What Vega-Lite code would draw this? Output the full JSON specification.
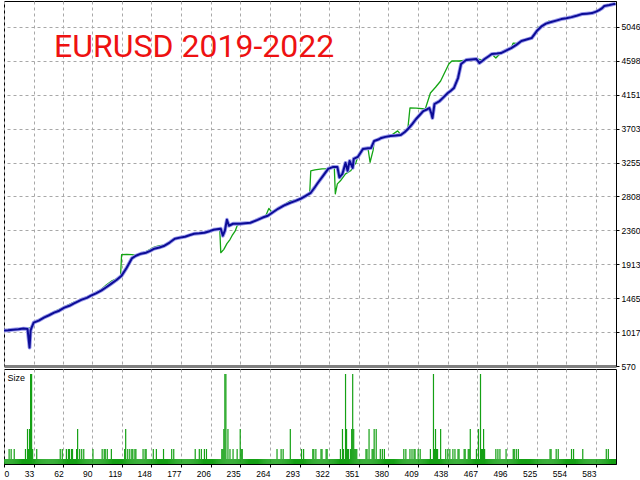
{
"$schema": "https://vega.github.io/schema/vega-lite/v6.json",
"padding": {"left": 3, "top": 0, "right": 0, "bottom": 0},
"background": "white",
"spacing": 3,
"bounds": "flush",
"config": {
  "view": {"stroke": "#000", "strokeWidth": 1},
  "axis": {"labelFont": "Liberation Sans", "labelFontSize": 8.5, "labelColor": "#000", "tickColor": "#000", "domainColor": "#000", "tickSize": 3, "labelPadding": 2, "gridColor": "#a8a8a8", "gridDash": [3, 3], "gridWidth": 1, "labelOverlap": false}
},
"datasets": {
  "balance": [
    {"n":4,"v":1038},{"n":8,"v":1042},{"n":13,"v":1050},{"n":18,"v":1055},{"n":23,"v":1064},{"n":27,"v":1060},{"n":29,"v":814},{"n":30,"v":1040},{"n":31,"v":1077},{"n":33,"v":1143},
    {"n":38,"v":1170},{"n":43,"v":1209},{"n":48,"v":1240},{"n":53,"v":1275},{"n":58,"v":1300},{"n":63,"v":1341},{"n":68,"v":1365},{"n":72,"v":1394},{"n":76,"v":1420},{"n":80,"v":1446},
    {"n":85,"v":1470},{"n":89,"v":1499},{"n":94,"v":1530},{"n":99,"v":1565},{"n":104,"v":1610},{"n":109,"v":1657},{"n":114,"v":1705},{"n":119,"v":1763},{"n":124,"v":1868},{"n":129,"v":1990},
    {"n":133,"v":2026},{"n":138,"v":2053},{"n":143,"v":2066},{"n":147,"v":2090},{"n":151,"v":2119},{"n":156,"v":2135},{"n":161,"v":2158},{"n":166,"v":2200},{"n":171,"v":2250},{"n":176,"v":2265},
    {"n":181,"v":2277},{"n":186,"v":2300},{"n":190,"v":2316},{"n":195,"v":2322},{"n":200,"v":2330},{"n":205,"v":2350},{"n":209,"v":2369},{"n":212,"v":2375},{"n":216,"v":2382},{"n":218,"v":2290},
    {"n":220,"v":2356},{"n":222,"v":2501},{"n":224,"v":2422},{"n":228,"v":2448},{"n":235,"v":2448},{"n":240,"v":2455},{"n":245,"v":2461},{"n":252,"v":2500},{"n":257,"v":2530},{"n":262,"v":2554},
    {"n":267,"v":2600},{"n":272,"v":2646},{"n":278,"v":2690},{"n":284,"v":2725},{"n":289,"v":2750},{"n":294,"v":2778},{"n":299,"v":2815},{"n":304,"v":2857},{"n":308,"v":2930},{"n":311,"v":2989},
    {"n":316,"v":3081},{"n":321,"v":3173},{"n":326,"v":3199},{"n":330,"v":3199},{"n":332,"v":3060},{"n":335,"v":3107},{"n":338,"v":3252},{"n":340,"v":3147},{"n":342,"v":3278},{"n":345,"v":3186},
    {"n":346,"v":3305},{"n":350,"v":3330},{"n":355,"v":3436},{"n":360,"v":3445},{"n":363,"v":3449},{"n":366,"v":3541},{"n":370,"v":3560},{"n":373,"v":3581},{"n":377,"v":3595},{"n":382,"v":3607},
    {"n":387,"v":3612},{"n":392,"v":3620},{"n":396,"v":3660},{"n":399,"v":3699},{"n":403,"v":3760},{"n":407,"v":3831},{"n":411,"v":3890},{"n":414,"v":3936},{"n":418,"v":3960},{"n":420,"v":3976},
    {"n":422,"v":3900},{"n":423,"v":3844},{"n":425,"v":4029},{"n":430,"v":4068},{"n":434,"v":4120},{"n":438,"v":4174},{"n":441,"v":4205},{"n":444,"v":4240},{"n":448,"v":4372},{"n":451,"v":4557},
    {"n":456,"v":4610},{"n":461,"v":4618},{"n":466,"v":4623},{"n":469,"v":4570},{"n":472,"v":4600},{"n":474,"v":4623},{"n":478,"v":4660},{"n":481,"v":4689},{"n":486,"v":4695},{"n":490,"v":4702},
    {"n":495,"v":4735},{"n":500,"v":4768},{"n":505,"v":4810},{"n":510,"v":4860},{"n":515,"v":4880},{"n":520,"v":4900},{"n":525,"v":4992},{"n":530,"v":5058},{"n":534,"v":5090},{"n":539,"v":5111},
    {"n":544,"v":5130},{"n":549,"v":5150},{"n":554,"v":5162},{"n":559,"v":5176},{"n":564,"v":5195},{"n":569,"v":5216},{"n":574,"v":5222},{"n":579,"v":5229},{"n":583,"v":5248},{"n":586,"v":5269},
    {"n":589,"v":5295},{"n":591,"v":5322},{"n":596,"v":5335},{"n":600,"v":5348},{"n":602,"v":5350}
  ],
  "equity": [
    {"n":4,"v":1045},{"n":13,"v":1055},{"n":23,"v":1070},{"n":27,"v":1065},{"n":31,"v":1080},{"n":33,"v":1150},{"n":43,"v":1215},{"n":53,"v":1285},{"n":63,"v":1350},{"n":72,"v":1410},
    {"n":80,"v":1450},{"n":89,"v":1505},{"n":99,"v":1580},{"n":104,"v":1640},{"n":109,"v":1690},{"n":114,"v":1720},{"n":118,"v":1763},{"n":119,"v":2040},{"n":124,"v":2045},{"n":129,"v":2040},
    {"n":133,"v":2030},{"n":138,"v":2060},{"n":143,"v":2080},{"n":151,"v":2140},{"n":156,"v":2160},{"n":161,"v":2165},{"n":171,"v":2255},{"n":181,"v":2285},{"n":190,"v":2320},{"n":200,"v":2335},
    {"n":209,"v":2372},{"n":215,"v":2384},{"n":216,"v":2066},{"n":219,"v":2110},{"n":222,"v":2185},{"n":225,"v":2240},{"n":227,"v":2290},{"n":230,"v":2350},{"n":232,"v":2422},{"n":235,"v":2450},
    {"n":245,"v":2465},{"n":252,"v":2505},{"n":260,"v":2554},{"n":263,"v":2650},{"n":266,"v":2600},{"n":272,"v":2650},{"n":278,"v":2700},{"n":284,"v":2750},{"n":289,"v":2760},{"n":294,"v":2782},
    {"n":299,"v":2820},{"n":303,"v":2857},{"n":304,"v":3147},{"n":308,"v":3160},{"n":315,"v":3173},{"n":320,"v":3175},{"n":324,"v":3199},{"n":327,"v":3199},{"n":328,"v":2843},{"n":330,"v":2975},
    {"n":333,"v":3015},{"n":338,"v":3107},{"n":343,"v":3147},{"n":348,"v":3250},{"n":350,"v":3335},{"n":355,"v":3440},{"n":360,"v":3440},{"n":362,"v":3260},{"n":365,"v":3420},{"n":366,"v":3541},
    {"n":373,"v":3585},{"n":382,"v":3610},{"n":389,"v":3674},{"n":392,"v":3625},{"n":399,"v":3710},{"n":401,"v":3976},{"n":407,"v":3975},{"n":416,"v":3963},{"n":421,"v":4174},{"n":426,"v":4250},
    {"n":431,"v":4333},{"n":439,"v":4557},{"n":442,"v":4597},{"n":449,"v":4597},{"n":458,"v":4610},{"n":466,"v":4625},{"n":472,"v":4610},{"n":481,"v":4690},{"n":485,"v":4636},{"n":490,"v":4705},
    {"n":500,"v":4770},{"n":502,"v":4834},{"n":506,"v":4830},{"n":510,"v":4860},{"n":520,"v":4905},{"n":525,"v":5000},{"n":527,"v":5045},{"n":530,"v":5060},{"n":537,"v":5124},{"n":539,"v":5115},
    {"n":549,"v":5155},{"n":558,"v":5163},{"n":559,"v":5178},{"n":569,"v":5218},{"n":579,"v":5232},{"n":586,"v":5272},{"n":591,"v":5325},{"n":600,"v":5350},{"n":602,"v":5352}
  ],
  "size": [
    {"n":4,"s":1},{"n":5,"s":1},{"n":6,"s":1},{"n":7,"s":1},{"n":8,"s":1},{"n":9,"s":3},{"n":10,"s":1},{"n":11,"s":3},{"n":12,"s":1},{"n":13,"s":1},
    {"n":14,"s":3},{"n":15,"s":1},{"n":16,"s":1},{"n":17,"s":1},{"n":18,"s":1},{"n":19,"s":1},{"n":20,"s":1},{"n":21,"s":1},{"n":22,"s":1},{"n":23,"s":1},
    {"n":24,"s":1},{"n":25,"s":3},{"n":26,"s":1},{"n":27,"s":7},{"n":28,"s":3},{"n":29,"s":7},{"n":30,"s":18},{"n":31,"s":18},{"n":32,"s":3},{"n":33,"s":1},
    {"n":34,"s":1},{"n":35,"s":1},{"n":36,"s":3},{"n":37,"s":1},{"n":38,"s":1},{"n":39,"s":1},{"n":40,"s":1},{"n":41,"s":1},{"n":42,"s":1},{"n":43,"s":1},
    {"n":44,"s":1},{"n":45,"s":1},{"n":46,"s":1},{"n":47,"s":1},{"n":48,"s":1},{"n":49,"s":1},{"n":50,"s":1},{"n":51,"s":1},{"n":52,"s":1},{"n":53,"s":1},
    {"n":54,"s":1},{"n":55,"s":1},{"n":56,"s":1},{"n":57,"s":1},{"n":58,"s":1},{"n":59,"s":3},{"n":60,"s":1},{"n":61,"s":3},{"n":62,"s":1},{"n":63,"s":1},
    {"n":64,"s":1},{"n":65,"s":3},{"n":66,"s":1},{"n":67,"s":3},{"n":68,"s":3},{"n":69,"s":1},{"n":70,"s":3},{"n":71,"s":3},{"n":72,"s":1},{"n":73,"s":1},
    {"n":74,"s":1},{"n":75,"s":3},{"n":76,"s":7},{"n":77,"s":1},{"n":78,"s":3},{"n":79,"s":1},{"n":80,"s":3},{"n":81,"s":1},{"n":82,"s":3},{"n":83,"s":1},
    {"n":84,"s":1},{"n":85,"s":1},{"n":86,"s":1},{"n":87,"s":1},{"n":88,"s":1},{"n":89,"s":1},{"n":90,"s":1},{"n":91,"s":3},{"n":92,"s":1},{"n":93,"s":1},
    {"n":94,"s":1},{"n":95,"s":1},{"n":96,"s":1},{"n":97,"s":1},{"n":98,"s":1},{"n":99,"s":1},{"n":100,"s":3},{"n":101,"s":1},{"n":102,"s":3},{"n":103,"s":3},
    {"n":104,"s":1},{"n":105,"s":3},{"n":106,"s":1},{"n":107,"s":1},{"n":108,"s":1},{"n":109,"s":3},{"n":110,"s":1},{"n":111,"s":1},{"n":112,"s":1},{"n":113,"s":1},
    {"n":114,"s":1},{"n":115,"s":1},{"n":116,"s":1},{"n":117,"s":1},{"n":118,"s":1},{"n":119,"s":1},{"n":120,"s":1},{"n":121,"s":1},{"n":122,"s":3},{"n":123,"s":7},
    {"n":124,"s":1},{"n":125,"s":3},{"n":126,"s":1},{"n":127,"s":3},{"n":128,"s":1},{"n":129,"s":3},{"n":130,"s":3},{"n":131,"s":1},{"n":132,"s":3},{"n":133,"s":3},
    {"n":134,"s":1},{"n":135,"s":1},{"n":136,"s":1},{"n":137,"s":1},{"n":138,"s":1},{"n":139,"s":1},{"n":140,"s":3},{"n":141,"s":1},{"n":142,"s":3},{"n":143,"s":3},
    {"n":144,"s":1},{"n":145,"s":1},{"n":146,"s":1},{"n":147,"s":1},{"n":148,"s":1},{"n":149,"s":1},{"n":150,"s":3},{"n":151,"s":1},{"n":152,"s":1},{"n":153,"s":3},
    {"n":154,"s":1},{"n":155,"s":1},{"n":156,"s":1},{"n":157,"s":1},{"n":158,"s":1},{"n":159,"s":1},{"n":160,"s":3},{"n":161,"s":1},{"n":162,"s":1},{"n":163,"s":1},
    {"n":164,"s":1},{"n":165,"s":1},{"n":166,"s":1},{"n":167,"s":1},{"n":168,"s":3},{"n":169,"s":1},{"n":170,"s":3},{"n":171,"s":1},{"n":172,"s":1},{"n":173,"s":1},
    {"n":174,"s":1},{"n":175,"s":1},{"n":176,"s":1},{"n":177,"s":1},{"n":178,"s":1},{"n":179,"s":1},{"n":180,"s":1},{"n":181,"s":1},{"n":182,"s":1},{"n":183,"s":1},
    {"n":184,"s":1},{"n":185,"s":1},{"n":186,"s":1},{"n":187,"s":1},{"n":188,"s":1},{"n":189,"s":1},{"n":190,"s":1},{"n":191,"s":3},{"n":192,"s":1},{"n":193,"s":1},
    {"n":194,"s":1},{"n":195,"s":3},{"n":196,"s":1},{"n":197,"s":3},{"n":198,"s":1},{"n":199,"s":1},{"n":200,"s":3},{"n":201,"s":1},{"n":202,"s":3},{"n":203,"s":1},
    {"n":204,"s":1},{"n":205,"s":1},{"n":206,"s":1},{"n":207,"s":1},{"n":208,"s":1},{"n":209,"s":1},{"n":210,"s":1},{"n":211,"s":1},{"n":212,"s":1},{"n":213,"s":1},
    {"n":214,"s":1},{"n":215,"s":1},{"n":216,"s":1},{"n":217,"s":3},{"n":218,"s":3},{"n":219,"s":7},{"n":220,"s":18},{"n":221,"s":18},{"n":222,"s":1},{"n":223,"s":7},
    {"n":224,"s":1},{"n":225,"s":3},{"n":226,"s":1},{"n":227,"s":1},{"n":228,"s":3},{"n":229,"s":1},{"n":230,"s":1},{"n":231,"s":1},{"n":232,"s":3},{"n":233,"s":1},
    {"n":234,"s":1},{"n":235,"s":7},{"n":236,"s":3},{"n":237,"s":3},{"n":238,"s":1},{"n":239,"s":1},{"n":240,"s":1},{"n":241,"s":1},{"n":242,"s":1},{"n":243,"s":1},
    {"n":244,"s":1},{"n":245,"s":1},{"n":246,"s":1},{"n":247,"s":1},{"n":248,"s":1},{"n":249,"s":1},{"n":250,"s":1},{"n":251,"s":1},{"n":252,"s":1},{"n":253,"s":1},
    {"n":254,"s":1},{"n":255,"s":1},{"n":256,"s":1},{"n":257,"s":1},{"n":258,"s":1},{"n":259,"s":1},{"n":260,"s":1},{"n":261,"s":1},{"n":262,"s":1},{"n":263,"s":1},
    {"n":264,"s":1},{"n":265,"s":1},{"n":266,"s":1},{"n":267,"s":1},{"n":268,"s":1},{"n":269,"s":1},{"n":270,"s":1},{"n":271,"s":3},{"n":272,"s":1},{"n":273,"s":1},
    {"n":274,"s":1},{"n":275,"s":3},{"n":276,"s":1},{"n":277,"s":3},{"n":278,"s":1},{"n":279,"s":1},{"n":280,"s":1},{"n":281,"s":1},{"n":282,"s":1},{"n":283,"s":1},
    {"n":284,"s":7},{"n":285,"s":1},{"n":286,"s":1},{"n":287,"s":1},{"n":288,"s":1},{"n":289,"s":1},{"n":290,"s":1},{"n":291,"s":1},{"n":292,"s":1},{"n":293,"s":1},
    {"n":294,"s":1},{"n":295,"s":3},{"n":296,"s":1},{"n":297,"s":3},{"n":298,"s":1},{"n":299,"s":1},{"n":300,"s":1},{"n":301,"s":1},{"n":302,"s":1},{"n":303,"s":1},
    {"n":304,"s":1},{"n":305,"s":1},{"n":306,"s":3},{"n":307,"s":3},{"n":308,"s":1},{"n":309,"s":3},{"n":310,"s":1},{"n":311,"s":1},{"n":312,"s":1},{"n":313,"s":1},
    {"n":314,"s":3},{"n":315,"s":3},{"n":316,"s":1},{"n":317,"s":1},{"n":318,"s":1},{"n":319,"s":3},{"n":320,"s":3},{"n":321,"s":1},{"n":322,"s":1},{"n":323,"s":1},
    {"n":324,"s":1},{"n":325,"s":1},{"n":326,"s":1},{"n":327,"s":1},{"n":328,"s":1},{"n":329,"s":1},{"n":330,"s":1},{"n":331,"s":1},{"n":332,"s":1},{"n":333,"s":3},
    {"n":334,"s":1},{"n":335,"s":7},{"n":336,"s":3},{"n":337,"s":1},{"n":338,"s":18},{"n":339,"s":7},{"n":340,"s":3},{"n":341,"s":3},{"n":342,"s":1},{"n":343,"s":3},
    {"n":344,"s":7},{"n":345,"s":18},{"n":346,"s":7},{"n":347,"s":3},{"n":348,"s":3},{"n":349,"s":3},{"n":350,"s":1},{"n":351,"s":1},{"n":352,"s":1},{"n":353,"s":1},
    {"n":354,"s":1},{"n":355,"s":1},{"n":356,"s":1},{"n":357,"s":1},{"n":358,"s":3},{"n":359,"s":3},{"n":360,"s":1},{"n":361,"s":7},{"n":362,"s":1},{"n":363,"s":1},
    {"n":364,"s":3},{"n":365,"s":3},{"n":366,"s":7},{"n":367,"s":1},{"n":368,"s":7},{"n":369,"s":1},{"n":370,"s":1},{"n":371,"s":1},{"n":372,"s":3},{"n":373,"s":1},
    {"n":374,"s":3},{"n":375,"s":1},{"n":376,"s":3},{"n":377,"s":1},{"n":378,"s":1},{"n":379,"s":1},{"n":380,"s":1},{"n":381,"s":1},{"n":382,"s":1},{"n":383,"s":1},
    {"n":384,"s":1},{"n":385,"s":1},{"n":386,"s":1},{"n":387,"s":1},{"n":388,"s":1},{"n":389,"s":1},{"n":390,"s":1},{"n":391,"s":1},{"n":392,"s":1},{"n":393,"s":1},
    {"n":394,"s":1},{"n":395,"s":3},{"n":396,"s":1},{"n":397,"s":3},{"n":398,"s":1},{"n":399,"s":1},{"n":400,"s":1},{"n":401,"s":3},{"n":402,"s":1},{"n":403,"s":3},
    {"n":404,"s":1},{"n":405,"s":3},{"n":406,"s":3},{"n":407,"s":1},{"n":408,"s":1},{"n":409,"s":3},{"n":410,"s":1},{"n":411,"s":3},{"n":412,"s":1},{"n":413,"s":1},
    {"n":414,"s":1},{"n":415,"s":1},{"n":416,"s":1},{"n":417,"s":1},{"n":418,"s":1},{"n":419,"s":1},{"n":420,"s":1},{"n":421,"s":3},{"n":422,"s":1},{"n":423,"s":1},
    {"n":424,"s":18},{"n":425,"s":3},{"n":426,"s":7},{"n":427,"s":3},{"n":428,"s":3},{"n":429,"s":1},{"n":430,"s":1},{"n":431,"s":7},{"n":432,"s":1},{"n":433,"s":1},
    {"n":434,"s":1},{"n":435,"s":1},{"n":436,"s":3},{"n":437,"s":1},{"n":438,"s":3},{"n":439,"s":1},{"n":440,"s":3},{"n":441,"s":1},{"n":442,"s":1},{"n":443,"s":3},
    {"n":444,"s":1},{"n":445,"s":3},{"n":446,"s":1},{"n":447,"s":1},{"n":448,"s":3},{"n":449,"s":3},{"n":450,"s":1},{"n":451,"s":1},{"n":452,"s":1},{"n":453,"s":1},
    {"n":454,"s":3},{"n":455,"s":3},{"n":456,"s":1},{"n":457,"s":1},{"n":458,"s":3},{"n":459,"s":3},{"n":460,"s":7},{"n":461,"s":1},{"n":462,"s":1},{"n":463,"s":1},
    {"n":464,"s":1},{"n":465,"s":1},{"n":466,"s":3},{"n":467,"s":1},{"n":468,"s":7},{"n":469,"s":1},{"n":470,"s":18},{"n":471,"s":3},{"n":472,"s":3},{"n":473,"s":7},
    {"n":474,"s":3},{"n":475,"s":1},{"n":476,"s":1},{"n":477,"s":1},{"n":478,"s":1},{"n":479,"s":1},{"n":480,"s":1},{"n":481,"s":1},{"n":482,"s":1},{"n":483,"s":1},
    {"n":484,"s":1},{"n":485,"s":3},{"n":486,"s":1},{"n":487,"s":3},{"n":488,"s":1},{"n":489,"s":3},{"n":490,"s":1},{"n":491,"s":1},{"n":492,"s":1},{"n":493,"s":1},
    {"n":494,"s":1},{"n":495,"s":3},{"n":496,"s":1},{"n":497,"s":1},{"n":498,"s":1},{"n":499,"s":1},{"n":500,"s":1},{"n":501,"s":1},{"n":502,"s":3},{"n":503,"s":3},
    {"n":504,"s":1},{"n":505,"s":3},{"n":506,"s":1},{"n":507,"s":3},{"n":508,"s":1},{"n":509,"s":1},{"n":510,"s":1},{"n":511,"s":1},{"n":512,"s":1},{"n":513,"s":1},
    {"n":514,"s":1},{"n":515,"s":1},{"n":516,"s":1},{"n":517,"s":1},{"n":518,"s":1},{"n":519,"s":1},{"n":520,"s":1},{"n":521,"s":1},{"n":522,"s":1},{"n":523,"s":1},
    {"n":524,"s":1},{"n":525,"s":1},{"n":526,"s":1},{"n":527,"s":1},{"n":528,"s":1},{"n":529,"s":1},{"n":530,"s":1},{"n":531,"s":1},{"n":532,"s":1},{"n":533,"s":1},
    {"n":534,"s":1},{"n":535,"s":1},{"n":536,"s":1},{"n":537,"s":1},{"n":538,"s":3},{"n":539,"s":3},{"n":540,"s":1},{"n":541,"s":1},{"n":542,"s":1},{"n":543,"s":1},
    {"n":544,"s":3},{"n":545,"s":1},{"n":546,"s":3},{"n":547,"s":1},{"n":548,"s":1},{"n":549,"s":1},{"n":550,"s":1},{"n":551,"s":1},{"n":552,"s":1},{"n":553,"s":1},
    {"n":554,"s":1},{"n":555,"s":1},{"n":556,"s":1},{"n":557,"s":1},{"n":558,"s":1},{"n":559,"s":3},{"n":560,"s":1},{"n":561,"s":3},{"n":562,"s":1},{"n":563,"s":1},
    {"n":564,"s":1},{"n":565,"s":1},{"n":566,"s":1},{"n":567,"s":1},{"n":568,"s":1},{"n":569,"s":1},{"n":570,"s":3},{"n":571,"s":1},{"n":572,"s":1},{"n":573,"s":1},
    {"n":574,"s":1},{"n":575,"s":1},{"n":576,"s":1},{"n":577,"s":1},{"n":578,"s":1},{"n":579,"s":1},{"n":580,"s":1},{"n":581,"s":1},{"n":582,"s":1},{"n":583,"s":1},
    {"n":584,"s":1},{"n":585,"s":1},{"n":586,"s":1},{"n":587,"s":1},{"n":588,"s":1},{"n":589,"s":1},{"n":590,"s":1},{"n":591,"s":1},{"n":592,"s":1},{"n":593,"s":3},
    {"n":594,"s":1},{"n":595,"s":3},{"n":596,"s":1},{"n":597,"s":1},{"n":598,"s":1},{"n":599,"s":1},{"n":600,"s":1},{"n":601,"s":1},{"n":602,"s":1}
  ]
},
"vconcat": [
  {
    "width": 612,
    "height": 365,
    "layer": [
      {
        "data": {"name": "equity"},
        "mark": {"type": "line", "color": "#14a514", "strokeWidth": 1.3, "clip": true, "strokeJoin": "round"},
        "encoding": {
          "x": {"field": "n", "type": "quantitative", "scale": {"domain": [4, 602.5], "nice": false, "zero": false},
                "axis": {"title": null, "values": [4,33,62,90,119,148,177,206,235,264,293,322,351,380,409,438,467,496,525,554,583], "tickCount": 100, "labels": false, "ticks": false, "grid": true, "domainColor": "#808080", "domainWidth": 3}},
          "y": {"field": "v", "type": "quantitative", "scale": {"domain": [570, 5389], "nice": false, "zero": false},
                "axis": {"title": null, "orient": "right", "values": [570,1017,1465,1913,2360,2808,3255,3703,4151,4598,5046], "tickCount": 100, "format": "d", "grid": true, "labelAlign": "left", "labelBaseline": "middle", "labelOverlap": false}}
        }
      },
      {
        "data": {"name": "balance"},
        "mark": {"type": "line", "color": "#9a9aec", "strokeWidth": 3.8, "clip": true, "strokeJoin": "round"},
        "encoding": {
          "x": {"field": "n", "type": "quantitative"},
          "y": {"field": "v", "type": "quantitative"}
        }
      },
      {
        "data": {"name": "balance"},
        "mark": {"type": "line", "color": "#0c0c96", "strokeWidth": 2, "clip": true, "strokeJoin": "round"},
        "encoding": {
          "x": {"field": "n", "type": "quantitative"},
          "y": {"field": "v", "type": "quantitative"}
        }
      },
      {
        "data": {"values": [{"t": "EURUSD  2019-2022"}]},
        "mark": {"type": "text", "align": "left", "baseline": "alphabetic", "font": "Roboto", "fontSize": 32, "color": "#ee1111"},
        "encoding": {
          "text": {"field": "t"},
          "x": {"datum": 53},
          "y": {"datum": 4649}
        }
      }
    ]
  },
  {
    "width": 612,
    "height": 95,
    "layer": [
      {
        "data": {"name": "size"},
        "mark": {"type": "rule", "color": "#14a014", "strokeWidth": 1.2, "clip": true},
        "encoding": {
          "x": {"field": "n", "type": "quantitative", "scale": {"domain": [4, 602.5], "nice": false, "zero": false},
                "axis": {"title": null, "values": [4,33,62,90,119,148,177,206,235,264,293,322,351,380,409,438,467,496,525,554,583], "tickCount": 100, "grid": true,
                         "labelExpr": "datum.value == 4 ? '0' : datum.label",
                         "labelAlign": {"condition": {"test": "datum.value == 4", "value": "left"}, "value": "right"},
                         "labelFlush": false, "labelOverlap": false,
                         "labelBaseline": "top"}},
          "y": {"field": "s", "type": "quantitative", "scale": {"domain": [0, 19], "nice": false}, "axis": null},
          "y2": {"datum": 0}
        }
      },
      {
        "data": {"values": [{"t": "Size"}]},
        "mark": {"type": "text", "align": "left", "baseline": "alphabetic", "font": "Liberation Sans", "fontSize": 9, "color": "#000"},
        "encoding": {
          "text": {"field": "t"},
          "x": {"datum": 7.5},
          "y": {"datum": 16.6}
        }
      }
    ]
  }
]
}
